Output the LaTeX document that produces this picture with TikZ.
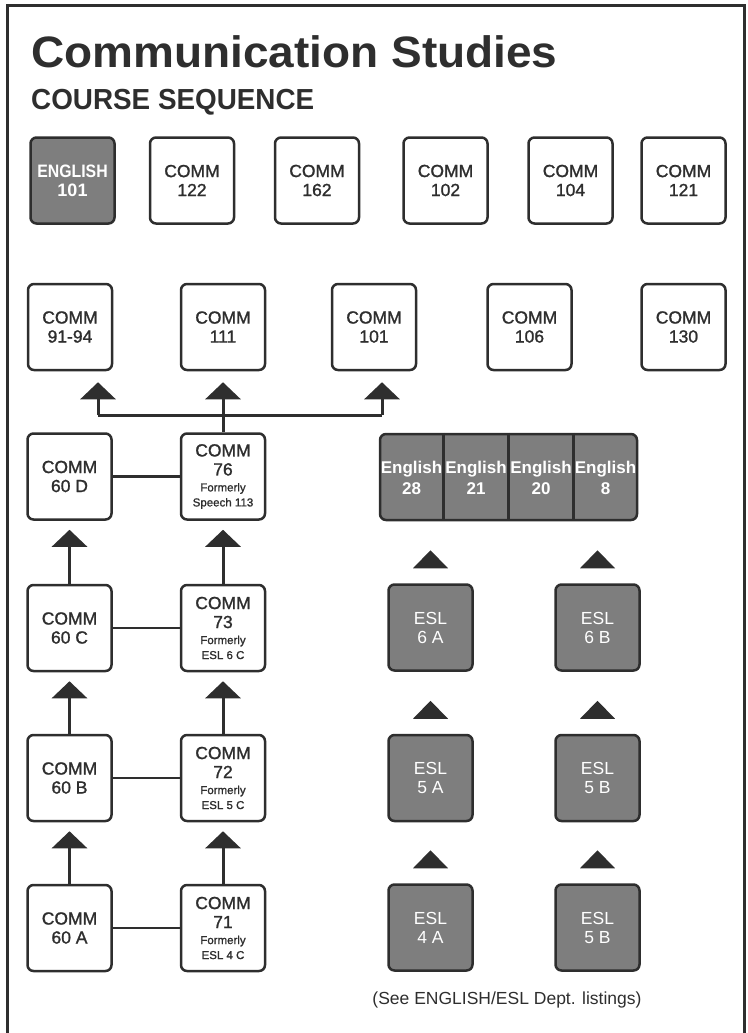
\documentclass[tikz,border=0pt]{standalone}
\usepackage{fontspec}
\setmainfont{Liberation Sans}
\newfontfamily\boxfont[FakeBold=1.2]{Liberation Sans}
\usepackage{tikz}
\usetikzlibrary{arrows.meta,calc}
\definecolor{ink}{HTML}{2E2E2E}
\definecolor{boxgray}{HTML}{7E7E7E}
\newcommand\fmr[1]{{\fontsize{11.5}{13}\selectfont #1}}

\begin{document}
\begin{tikzpicture}[x=1pt,y=-1pt,
  course/.style={draw=ink,line width=2.5pt,rounded corners=6pt,fill=white,
    minimum width=84pt,minimum height=86pt,inner sep=0pt,align=center,
    text=ink,font=\boxfont\fontsize{17.5}{19}\selectfont},
  greycourse/.style={course,fill=boxgray,text=white,font=\fontsize{17.5}{19}\selectfont},
  englab/.style={align=center,text=white,inner sep=0pt,
    font=\bfseries\fontsize{17}{21}\selectfont},
  arr/.style={draw=ink,line width=3pt,-{Triangle[width=35pt,length=17pt]}},
  link/.style={draw=ink,line width=2.5pt}]
\useasboundingbox (0,0) rectangle (747,1033);
\draw[ink,line width=3pt] (7.5,5.5) rectangle (744.5,1040);
\node[anchor=base west,inner sep=0pt,text=ink,font=\bfseries\fontsize{44}{48}\selectfont] (title) at (31,67) {\scalebox{1.045}[1]{Communication Studies}};
\node[anchor=base west,inner sep=0pt,text=ink,font=\bfseries\fontsize{29}{32}\selectfont] (subtitle) at (31,109) {\scalebox{0.96}[1]{COURSE SEQUENCE}};
\node[greycourse,font=\bfseries\fontsize{18}{19}\selectfont] (eng101) at (72.5,180.5) {\scalebox{0.88}[1]{ENGLISH}\\101};
\node[course] (c122) at (192,180.5) {COMM\\122};
\node[course] (c162) at (317,180.5) {COMM\\162};
\node[course] (c102) at (445.5,180.5) {COMM\\102};
\node[course] (c104) at (570.5,180.5) {COMM\\104};
\node[course] (c121) at (683.5,180.5) {COMM\\121};
\node[course] (c9194) at (70,327) {COMM\\91-94};
\node[course] (c111) at (223,327) {COMM\\111};
\node[course] (c101) at (374,327) {COMM\\101};
\node[course] (c106) at (529.5,327) {COMM\\106};
\node[course] (c130) at (683.5,327) {COMM\\130};
\node[course] (c60d) at (69.5,476.5) {COMM\\60 D};
\node[course] (c76) at (223,476.5) {COMM\\76\\[-3pt]\fmr{Formerly}\\[-4pt]\fmr{Speech 113}};
\node[course] (c60c) at (69.5,628) {COMM\\60 C};
\node[course] (c73) at (223,628) {COMM\\73\\[-3pt]\fmr{Formerly}\\[-4pt]\fmr{ESL 6 C}};
\node[course] (c60b) at (69.5,778) {COMM\\60 B};
\node[course] (c72) at (223,778) {COMM\\72\\[-3pt]\fmr{Formerly}\\[-4pt]\fmr{ESL 5 C}};
\node[course] (c60a) at (69.5,928) {COMM\\60 A};
\node[course] (c71) at (223,928) {COMM\\71\\[-3pt]\fmr{Formerly}\\[-4pt]\fmr{ESL 4 C}};
\node[greycourse,minimum width=257pt] (english) at (508.5,477) {};
\node[englab] (e28) at (411.5,478) {English\\28};
\node[englab] (e21) at (476,478) {English\\21};
\node[englab] (e20) at (541,478) {English\\20};
\node[englab] (e8) at (605.5,478) {English\\8};
\node[greycourse] (esl6a) at (430.5,627.5) {ESL\\6 A};
\node[greycourse] (esl6b) at (597.5,627.5) {ESL\\6 B};
\node[greycourse] (esl5a) at (430.5,778) {ESL\\5 A};
\node[greycourse] (esl5b) at (597.5,778) {ESL\\5 B};
\node[greycourse] (esl4a) at (430.5,927.5) {ESL\\4 A};
\node[greycourse] (esl4b) at (597.5,927.5) {ESL\\5 B};
\node[inner sep=0pt,text=ink,font=\fontsize{17.5}{19}\selectfont] (note) at (507,1000) {(See ENGLISH/ESL Dept. listings)};
\coordinate (forkl) at (98,415);
\coordinate (forkr) at (382,415);
\foreach \x in {0.25,0.5,0.75}
  \draw[link] ($(english.north west)!\x!(english.north east)$) -- ($(english.south west)!\x!(english.south east)$);
\foreach \n in {esl6a,esl6b,esl5a,esl5b,esl4a,esl4b}
  \fill[ink] ($(\n.north)+(-17.5,-15)$) -- ++(35,0) -- ++(-17.5,-18) -- cycle;
\draw[link] (c60d)--(c76);
\draw[link] (c60c)--(c73);
\draw[link] (c60b)--(c72);
\draw[link] (c60a)--(c71);
\draw[arr,shorten >=9pt] (c60a)--(c60b);
\draw[arr,shorten >=9pt] (c60b)--(c60c);
\draw[arr,shorten >=9pt] (c60c)--(c60d);
\draw[arr,shorten >=9pt] (c71)--(c72);
\draw[arr,shorten >=9pt] (c72)--(c73);
\draw[arr,shorten >=9pt] (c73)--(c76);
\draw[arr,shorten >=11pt] (c76)--(c111);
\draw[link,line width=3pt] (forkl)--(forkr);
\draw[arr,shorten >=11pt] (forkl)--(forkl |- c9194.south);
\draw[arr,shorten >=11pt] (forkr)--(forkr |- c101.south);
\end{tikzpicture}
\end{document}
